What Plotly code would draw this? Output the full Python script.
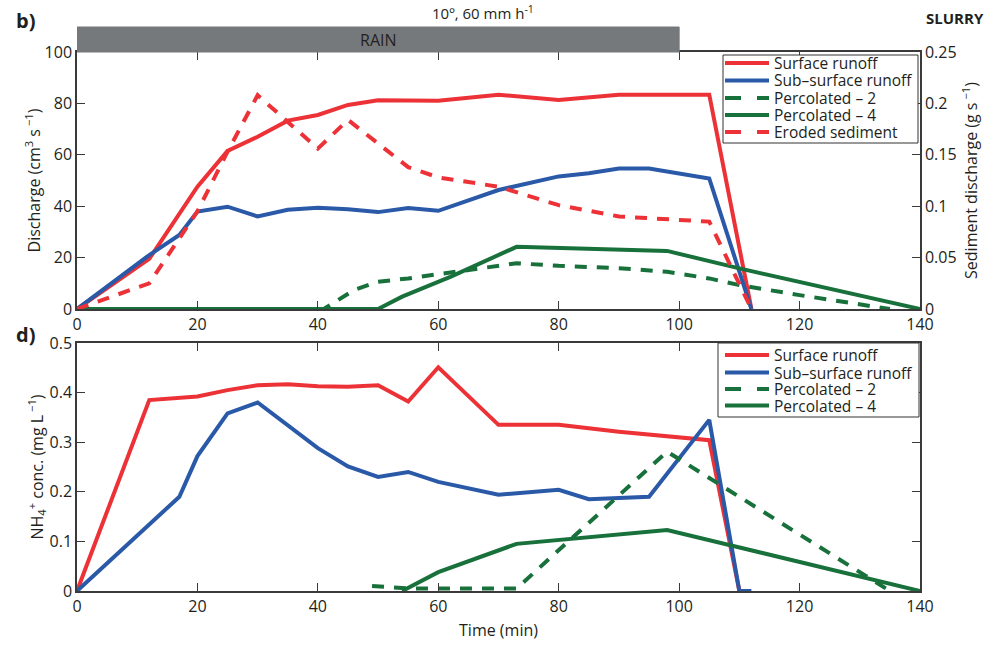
import plotly.graph_objects as go

# ---------------- data ----------------
# Panel b) discharge (cm3 s-1) and sediment discharge (g s-1)
sr_t = [0, 12, 20, 25, 30, 35, 40, 45, 50, 60, 70, 80, 90, 105, 112]
sr_q = [0, 19.5, 47.6, 61.5, 67, 73.3, 75.5, 79.4, 81.2, 81, 83.4, 81.3, 83.4, 83.4, 0]

ss_t = [0, 12, 17, 20, 25, 30, 35, 40, 45, 50, 55, 60, 70, 80, 85, 90, 95, 105, 112]
ss_q = [0, 21, 28.8, 37.9, 39.8, 36, 38.6, 39.4, 38.8, 37.7, 39.3, 38.2, 46.3, 51.6, 52.8, 54.7, 54.7, 50.8, 0]

p2_t = [0, 41, 46, 50, 55, 62, 73, 80, 90, 98, 105, 110, 120, 135]
p2_q = [0, 0, 7.4, 10.6, 11.9, 14.2, 17.8, 16.8, 15.9, 14.5, 11.9, 9.3, 5.4, 0]

p4_t = [0, 50, 54, 62, 73, 98, 110, 140]
p4_q = [0, 0, 4.8, 12.5, 24.2, 22.6, 15.8, 0]

es_t = [0, 12, 20, 25, 30, 40, 45, 55, 60, 70, 80, 90, 105, 112]
es_q = [0, 0.025, 0.095, 0.153, 0.208, 0.156, 0.184, 0.138, 0.128, 0.119, 0.101, 0.090, 0.085, 0]

# Panel d) NH4+ concentration (mg L-1)
csr_t = [0, 12, 20, 25, 30, 35, 40, 45, 50, 55, 60, 70, 80, 90, 105, 110]
csr_c = [0, 0.385, 0.392, 0.405, 0.415, 0.417, 0.413, 0.412, 0.415, 0.382, 0.451, 0.335, 0.335, 0.321, 0.304, 0]

css_t = [0, 17, 20, 25, 30, 35, 40, 45, 50, 55, 60, 70, 80, 85, 95, 105, 110, 112]
css_c = [0, 0.19, 0.272, 0.358, 0.38, 0.335, 0.288, 0.251, 0.23, 0.24, 0.22, 0.194, 0.204, 0.185, 0.19, 0.345, 0, 0]

cp2_t = [49, 55, 73, 98, 135]
cp2_c = [0.01, 0.005, 0.005, 0.281, 0]

cp4_t = [54, 60, 73, 98, 140]
cp4_c = [0, 0.038, 0.095, 0.123, 0]

x_ticks = [0, 20, 40, 60, 80, 100, 120, 140]
yq_ticks = [0, 20, 40, 60, 80, 100]
ys_ticks = [0, 0.05, 0.1, 0.15, 0.2, 0.25]
ys_labels = ["0", "0.05", "0.1", "0.15", "0.2", "0.25"]
yc_ticks = [0, 0.1, 0.2, 0.3, 0.4, 0.5]
yc_labels = ["0", "0.1", "0.2", "0.3", "0.4", "0.5"]

# ---------------- style ----------------
RED = "#ec3237"
BLUE = "#2a59a8"
GREEN = "#18703b"
LW = 4
DASH = "12px,10px"
FONT = "Open Sans"
TXT = "#231f20"

# figure geometry in pixels
W, H = 1002, 645
ML, MR, MT, MB = 77, 82, 52, 54
PW, PH = W - ML - MR, H - MT - MB


def px(xp):
    return (xp - ML) / PW


def py(yp):
    return 1 - (yp - MT) / PH


fig = go.Figure()

top_series = [
    (sr_t, sr_q, "Surface runoff", RED, "solid", "y"),
    (ss_t, ss_q, "Sub\u2013surface runoff", BLUE, "solid", "y"),
    (p2_t, p2_q, "Percolated \u2013 2", GREEN, DASH, "y"),
    (p4_t, p4_q, "Percolated \u2013 4", GREEN, "solid", "y"),
    (es_t, es_q, "Eroded sediment", RED, DASH, "y2"),
]
bot_series = [
    (csr_t, csr_c, "Surface runoff", RED, "solid"),
    (css_t, css_c, "Sub\u2013surface runoff", BLUE, "solid"),
    (cp2_t, cp2_c, "Percolated \u2013 2", GREEN, DASH),
    (cp4_t, cp4_c, "Percolated \u2013 4", GREEN, "solid"),
]

for x, y, name, color, dash, ya in top_series:
    fig.add_trace(go.Scatter(x=x, y=y, name=name, mode="lines",
                             line=dict(color=color, width=LW, dash=dash),
                             xaxis="x", yaxis=ya, showlegend=False, hoverinfo="skip"))
for x, y, name, color, dash in bot_series:
    fig.add_trace(go.Scatter(x=x, y=y, name=name, mode="lines",
                             line=dict(color=color, width=LW, dash=dash),
                             xaxis="x2", yaxis="y3", showlegend=False, hoverinfo="skip"))

TOP_BOT = py(309)
BOT_TOP = py(343)

axis_common = dict(showgrid=False, zeroline=False, showline=True, linecolor="#3a3a3a",
                   linewidth=1.5, ticks="inside", ticklen=8, tickcolor="#3a3a3a",
                   automargin=False,
                   tickfont=dict(family=FONT, size=16, color=TXT))
tfont = dict(family=FONT, size=16, color=TXT)

fig.update_layout(
    width=W, height=H,
    margin=dict(l=ML, r=MR, t=MT, b=MB),
    plot_bgcolor="white", paper_bgcolor="white",
    font=dict(family=FONT, color=TXT),
    showlegend=False,
    xaxis=dict(domain=[0, 1], anchor="y", range=[0, 140], tickvals=x_ticks,
               mirror="ticks", **axis_common),
    yaxis=dict(domain=[TOP_BOT, 1], anchor="x", range=[0, 100], tickvals=yq_ticks,
               mirror=True,
               title=dict(text="Discharge (cm<sup>3</sup> s<sup> \u22121</sup>)",
                          font=tfont, standoff=0),
               **axis_common),
    yaxis2=dict(overlaying="y", side="right", anchor="x", range=[0, 0.25],
                tickvals=ys_ticks, ticktext=ys_labels,
                title=dict(text="Sediment discharge (g s<sup> \u22121</sup>)",
                           font=tfont, standoff=10),
                **axis_common),
    xaxis2=dict(domain=[0, 1], anchor="y3", range=[0, 140], tickvals=x_ticks,
                mirror="ticks",
                title=dict(text="Time (min)", font=tfont, standoff=9),
                **axis_common),
    yaxis3=dict(domain=[0, BOT_TOP], anchor="x2", range=[0, 0.5], tickvals=yc_ticks,
                ticktext=yc_labels, mirror="ticks",
                title=dict(text="NH<sub>4</sub><sup>+</sup> conc. (mg L<sup> \u22121</sup>)",
                           font=tfont, standoff=2),
                **axis_common),
)

# Rain bar above the top panel
fig.add_shape(type="rect", xref="x", yref="paper", x0=0, x1=100, y0=1.0, y1=py(27),
              fillcolor="#76797b", line=dict(color="#76797b", width=1), layer="above")
fig.add_annotation(xref="x", yref="paper", x=50, y=py(40), yanchor="middle",
                   text="RAIN", showarrow=False, font=dict(family=FONT, size=16, color=TXT))

fig.add_annotation(xref="paper", yref="paper", x=px(483), y=py(13), xanchor="center",
                   yanchor="middle", text="10\u00ba, 60 mm h<sup>-1</sup>", showarrow=False,
                   font=dict(family=FONT, size=15, color=TXT))
fig.add_annotation(xref="paper", yref="paper", x=px(986), y=py(18), xanchor="right",
                   yanchor="middle", text="<b>SLURRY</b>", showarrow=False,
                   font=dict(family=FONT, size=15, color=TXT))
fig.add_annotation(xref="paper", yref="paper", x=px(14), y=py(20), xanchor="left",
                   yanchor="middle", text="<b>b)</b>", showarrow=False,
                   font=dict(family=FONT, size=20, color=TXT))
fig.add_annotation(xref="paper", yref="paper", x=px(14), y=py(334), xanchor="left",
                   yanchor="middle", text="<b>d)</b>", showarrow=False,
                   font=dict(family=FONT, size=20, color=TXT))


# ---------------- legends (drawn as box + line samples + text) ----------------
def draw_legend(box, rows, series):
    x0, y0, x1, y1 = box
    fig.add_shape(type="rect", xref="paper", yref="paper",
                  x0=px(x0), x1=px(x1), y0=py(y0), y1=py(y1),
                  fillcolor="white", line=dict(color="#333333", width=1), layer="above")
    for yy, s in zip(rows, series):
        name, color, dash = s[2], s[3], s[4]
        ldash = "16px,16px" if dash != "solid" else "solid"
        fig.add_shape(type="line", xref="paper", yref="paper",
                      x0=px(725), x1=px(769), y0=py(yy), y1=py(yy),
                      line=dict(color=color, width=LW, dash=ldash), layer="above")
        fig.add_annotation(xref="paper", yref="paper", x=px(772), y=py(yy),
                           xanchor="left", yanchor="middle", text=name, showarrow=False,
                           font=dict(family=FONT, size=15.5, color=TXT))


draw_legend((723, 55, 918, 143), [63, 80.5, 98, 115, 132], top_series)
draw_legend((718, 343, 919, 417), [355, 372.5, 389, 405.5], bot_series)

fig.write_html("out.html")
